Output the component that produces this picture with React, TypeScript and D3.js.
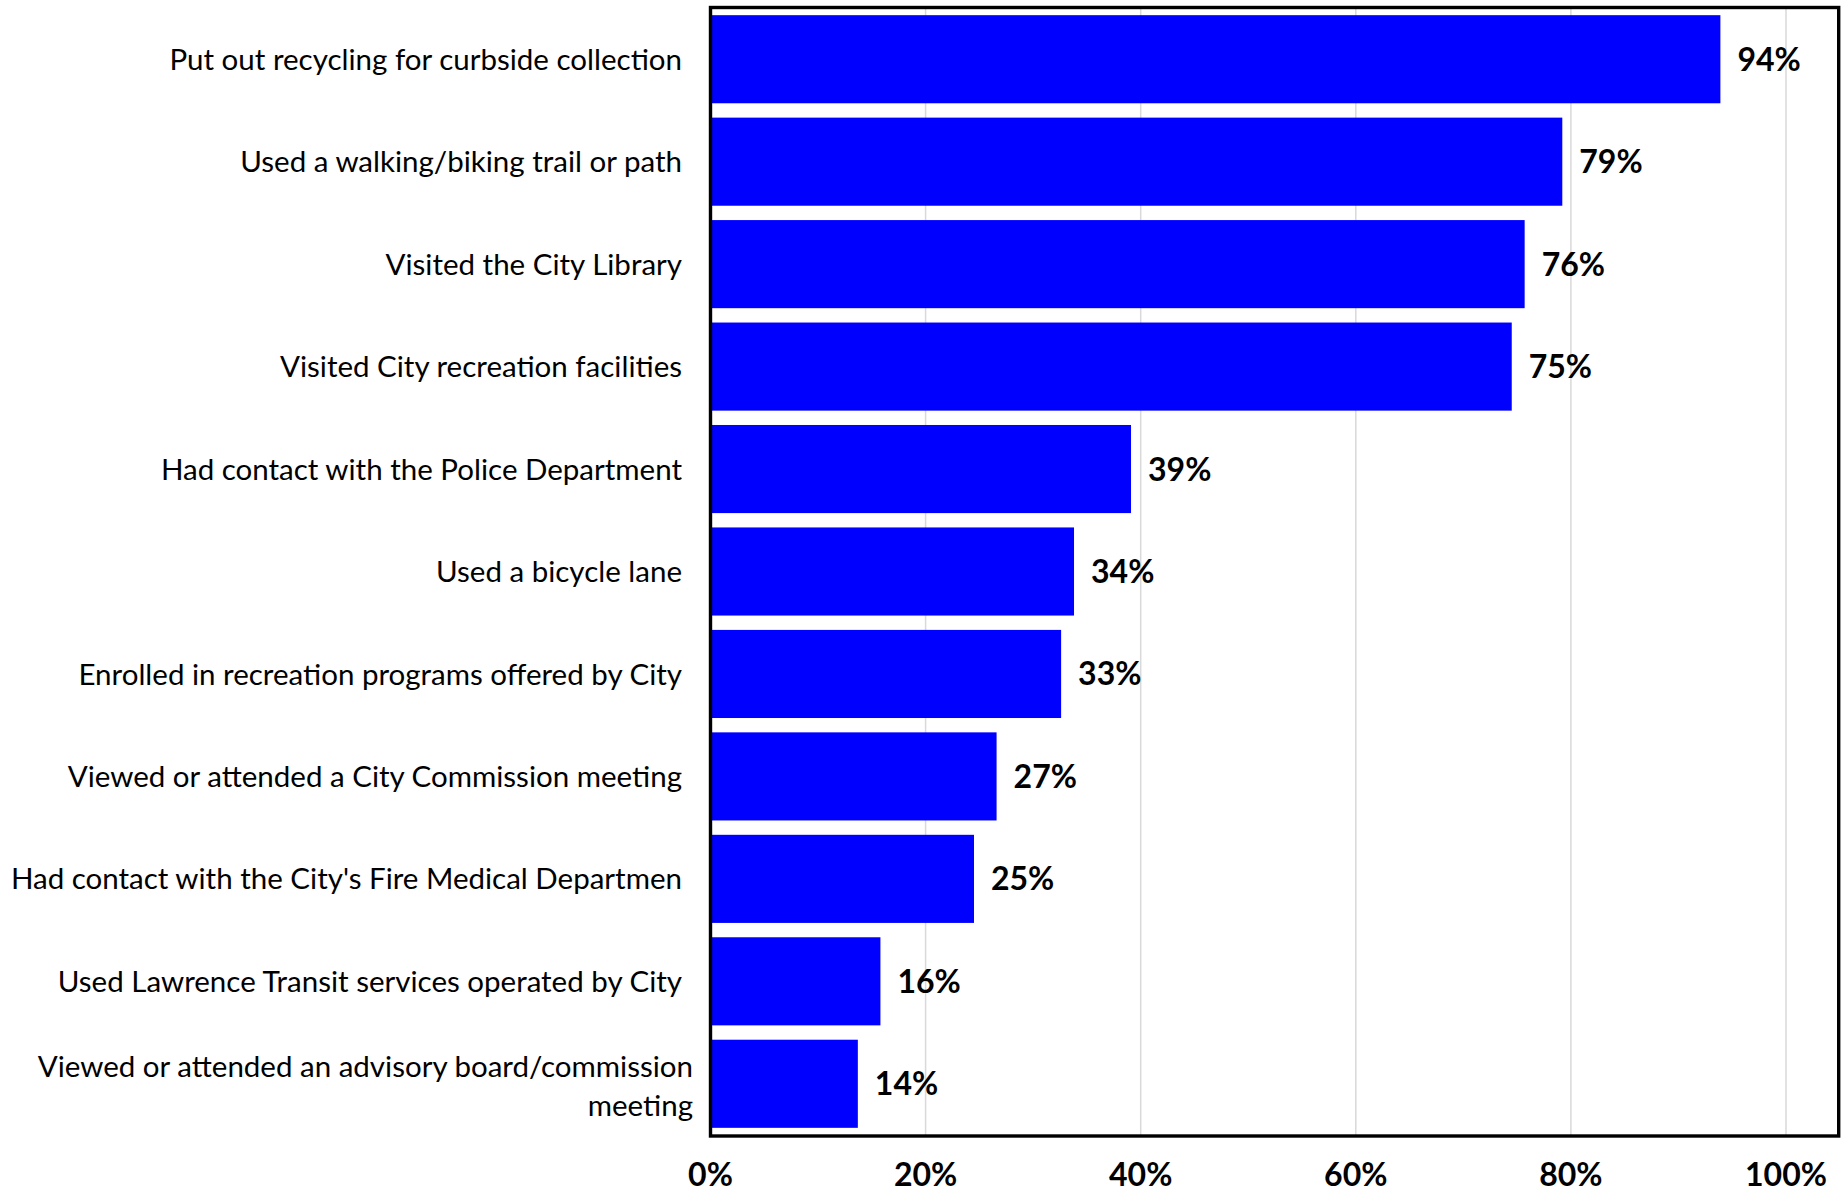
import React from "react";
import * as d3 from "d3";

const categories: string[][] = [
  ["Put out recycling for curbside collection"],
  ["Used a walking/biking trail or path"],
  ["Visited the City Library"],
  ["Visited City recreation facilities"],
  ["Had contact with the Police Department"],
  ["Used a bicycle lane"],
  ["Enrolled in recreation programs offered by City"],
  ["Viewed or attended a City Commission meeting"],
  ["Had contact with the City's Fire Medical Departmen"],
  ["Used Lawrence Transit services operated by City"],
  ["Viewed or attended an advisory board/commission", "meeting"],
];

const values: number[] = [0.939, 0.792, 0.757, 0.745, 0.391, 0.338, 0.326, 0.266, 0.245, 0.158, 0.137];

const ticks: number[] = [0, 0.2, 0.4, 0.6, 0.8, 1.0];

const W = 1846;
const H = 1193;
const FONT = "Lato, 'Open Sans', sans-serif";

export default function App() {
  const left = 710.5;
  const right = 1838.7;
  const top = 7.5;
  const bottom = 1136;
  const catSize = 29.5;

  const x = d3.scaleLinear().domain([0, 1]).range([left, 1786]);
  const ids = categories.map((_, i) => String(i));
  const y = d3
    .scaleBand<string>()
    .domain(ids)
    .range([top + 0.5, bottom - 1])
    .paddingInner(0.14)
    .paddingOuter(0.07);

  return (
    <svg
      width={W}
      height={H}
      style={{ position: "absolute", left: 0, top: 0, background: "#fff" }}
      fontFamily={FONT}
    >
      <rect x={0} y={0} width={W} height={H} fill="#fff" />
      {ticks.slice(1).map((t) => (
        <line
          key={"g" + t}
          x1={x(t)}
          x2={x(t)}
          y1={top}
          y2={bottom}
          stroke="#d9d9d9"
          strokeWidth={1.5}
        />
      ))}
      {values.map((v, i) => {
        const y0 = y(String(i))!;
        return (
          <rect
            key={"b" + i}
            x={x(0) + 1.5}
            y={y0}
            width={x(v) - x(0) - 1.5}
            height={y.bandwidth()}
            fill="#0000ff"
          />
        );
      })}
      {values.map((v, i) => {
        const cy = y(String(i))! + y.bandwidth() / 2;
        return (
          <text
            key={"v" + i}
            x={x(v) + 17}
            y={cy}
            dy="0.36em"
            fontSize={32}
            fontWeight="bold"
            fill="#000"
          >
            {Math.round(v * 100) + "%"}
          </text>
        );
      })}
      {categories.map((lines, i) => {
        const cy = y(String(i))! + y.bandwidth() / 2;
        const lh = 39;
        const multi = lines.length > 1;
        const tx = multi ? 693 : 682;
        return (
          <text
            key={"c" + i}
            x={tx}
            y={cy + (multi ? 2 : 0)}
            textAnchor="end"
            fontSize={catSize}
            fill="#000"
          >
            {lines.map((ln, j) => (
              <tspan
                key={j}
                x={tx}
                dy={j === 0 ? `${0.36 - ((lines.length - 1) * lh) / 2 / catSize}em` : lh}
              >
                {ln}
              </tspan>
            ))}
          </text>
        );
      })}
      <rect
        x={left}
        y={top}
        width={right - left}
        height={bottom - top}
        fill="none"
        stroke="#000"
        strokeWidth={3.4}
      />
      {ticks.map((t) => (
        <text
          key={"t" + t}
          x={x(t)}
          y={1186}
          textAnchor="middle"
          fontSize={32}
          fontWeight="bold"
          fill="#000"
        >
          {d3.format(".0%")(t)}
        </text>
      ))}
    </svg>
  );
}
